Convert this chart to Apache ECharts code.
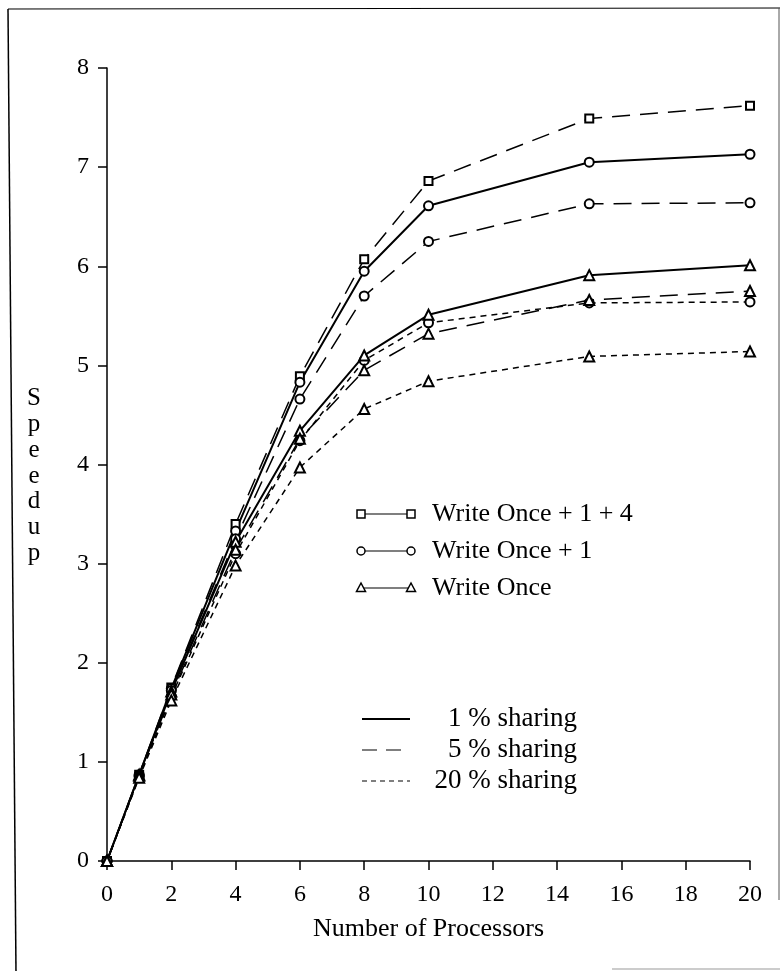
<!DOCTYPE html>
<html>
<head>
<meta charset="utf-8">
<script src="https://cdn.jsdelivr.net/npm/echarts@6/dist/echarts.min.js"></script>
<style>
html,body{margin:0;padding:0;background:#fff;}
#c{width:780px;height:971px;}
</style>
</head>
<body>
<div id="c"></div>
<script>
var processors = [0, 1, 2, 4, 6, 8, 10, 15, 20];
var xTicks = [0, 2, 4, 6, 8, 10, 12, 14, 16, 18, 20];
var yTicks = [0, 1, 2, 3, 4, 5, 6, 7, 8];
var wo14_5 = [0, 0.87, 1.75, 3.40, 4.89, 6.07, 6.86, 7.49, 7.62];
var wo1_1  = [0, 0.87, 1.74, 3.33, 4.83, 5.95, 6.61, 7.05, 7.13];
var wo1_5  = [0, 0.86, 1.72, 3.25, 4.66, 5.70, 6.25, 6.63, 6.64];
var wo1_20 = [0, 0.85, 1.66, 3.10, 4.24, 5.05, 5.43, 5.63, 5.64];
var wo_1   = [0, 0.87, 1.71, 3.22, 4.34, 5.10, 5.51, 5.91, 6.01];
var wo_5   = [0, 0.86, 1.68, 3.14, 4.26, 4.95, 5.32, 5.66, 5.75];
var wo_20  = [0, 0.84, 1.62, 2.98, 3.97, 4.56, 4.84, 5.09, 5.14];
var schemeNames = ['Write Once + 1 + 4', 'Write Once + 1', 'Write Once'];
var sharingNames = ['1 % sharing', '5 % sharing', '20 % sharing'];

var FONT = 'Liberation Serif';
function pairs(arr){ return processors.map(function(x,i){ return [x, arr[i]]; }); }
var styles = {
  solid: {type:'solid', width:2},
  dash: {type:[18,10], width:1.5},
  short: {type:[6,5], width:1.5}
};
function ser(name, arr, sym, size, st){
  return {
    name:name, type:'line', data:pairs(arr), symbol:sym, symbolSize:size,
    showAllSymbol:true,
    lineStyle:{color:'#000', width:styles[st].width, type:styles[st].type},
    itemStyle:{color:'#000', borderColor:'#000', borderWidth:1.5},
    emphasis:{disabled:true}, animation:false, z:3
  };
}

var chart = echarts.init(document.getElementById('c'), null, {renderer:'canvas'});

var G = [];
function line(x1,y1,x2,y2,dash,w,col){
  return {type:'line', shape:{x1:x1,y1:y1,x2:x2,y2:y2}, style:{stroke:col||'#000', lineWidth:w||1.5, lineDash:dash||null}};
}
function txt(x,y,t,align,fs,lh){
  return {type:'text', x:x, y:y, style:{text:t, font:fs+'px "'+FONT+'"', fill:'#000', textAlign:align||'left', textVerticalAlign:'middle', lineHeight:lh||fs}};
}
// symbol legend
var lys = [514, 551, 588];
lys.forEach(function(y, i){
  G.push(line(361, y, 411, y, null, 1.2));
  [361, 411].forEach(function(cx){
    if (i === 0) G.push({type:'rect', shape:{x:cx-4, y:y-4, width:8, height:8}, style:{fill:'#fff', stroke:'#000', lineWidth:1.5}});
    else if (i === 1) G.push({type:'circle', shape:{cx:cx, cy:y, r:4}, style:{fill:'#fff', stroke:'#000', lineWidth:1.5}});
    else G.push({type:'polygon', shape:{points:[[cx,y-5],[cx-4.5,y+3.5],[cx+4.5,y+3.5]]}, style:{fill:'#fff', stroke:'#000', lineWidth:1.5}});
  });
  G.push(txt(432, y, schemeNames[i], 'left', 26));
});
// sharing legend
var sys = [719, 750, 781];
G.push(line(362, sys[0], 410, sys[0], null, 2));
G.push(line(362, sys[1], 410, sys[1], [15,9], 1.2));
G.push(line(362, sys[2], 410, sys[2], [5,4], 1.2));
sys.forEach(function(y, i){ G.push(txt(577, y, sharingNames[i], 'right', 27)); });
// y axis title (stacked letters)
G.push(txt(34, 476, 'S\np\ne\ne\nd\nu\np', 'center', 25, 25.8));
// frame
G.push(line(8, 9, 780, 8, null, 1.2));
G.push(line(8, 9, 16, 971, null, 1.5));
G.push(line(779, 8, 779, 900, null, 1, '#555'));
G.push(line(612, 969, 780, 969, null, 1.2, '#999'));

chart.setOption({
  backgroundColor:'#fff',
  animation:false,
  grid:{left:107, right:30, top:68, bottom:110},
  xAxis:{
    type:'value', min:0, max:20, interval:2,
    name:'Number of Processors', nameLocation:'middle', nameGap:55,
    nameTextStyle:{fontFamily:FONT, fontSize:26, color:'#000'},
    axisLine:{show:true, onZero:false, lineStyle:{color:'#000', width:1.5}},
    axisTick:{show:true, length:9, lineStyle:{color:'#000', width:1.5}},
    axisLabel:{fontFamily:FONT, fontSize:24, color:'#000', margin:22,
      formatter:function(v){ return xTicks.indexOf(v) >= 0 ? String(v) : ''; }},
    splitLine:{show:false}
  },
  yAxis:{
    type:'value', min:0, max:8, interval:1,
    axisLine:{show:true, onZero:false, lineStyle:{color:'#000', width:1.5}},
    axisTick:{show:true, length:9, lineStyle:{color:'#000', width:1.5}},
    axisLabel:{fontFamily:FONT, fontSize:24, color:'#000', margin:18,
      formatter:function(v){ return yTicks.indexOf(v) >= 0 ? String(v) : ''; }},
    splitLine:{show:false}
  },
  graphic:G,
  series:[
    ser('Write Once + 1 + 4, 5 % sharing', wo14_5, 'emptyRect', 8, 'dash'),
    ser('Write Once + 1, 1 % sharing', wo1_1, 'emptyCircle', 9, 'solid'),
    ser('Write Once + 1, 5 % sharing', wo1_5, 'emptyCircle', 9, 'dash'),
    ser('Write Once + 1, 20 % sharing', wo1_20, 'emptyCircle', 9, 'short'),
    ser('Write Once, 1 % sharing', wo_1, 'emptyTriangle', 10, 'solid'),
    ser('Write Once, 5 % sharing', wo_5, 'emptyTriangle', 10, 'dash'),
    ser('Write Once, 20 % sharing', wo_20, 'emptyTriangle', 10, 'short')
  ]
});
</script>
</body>
</html>
